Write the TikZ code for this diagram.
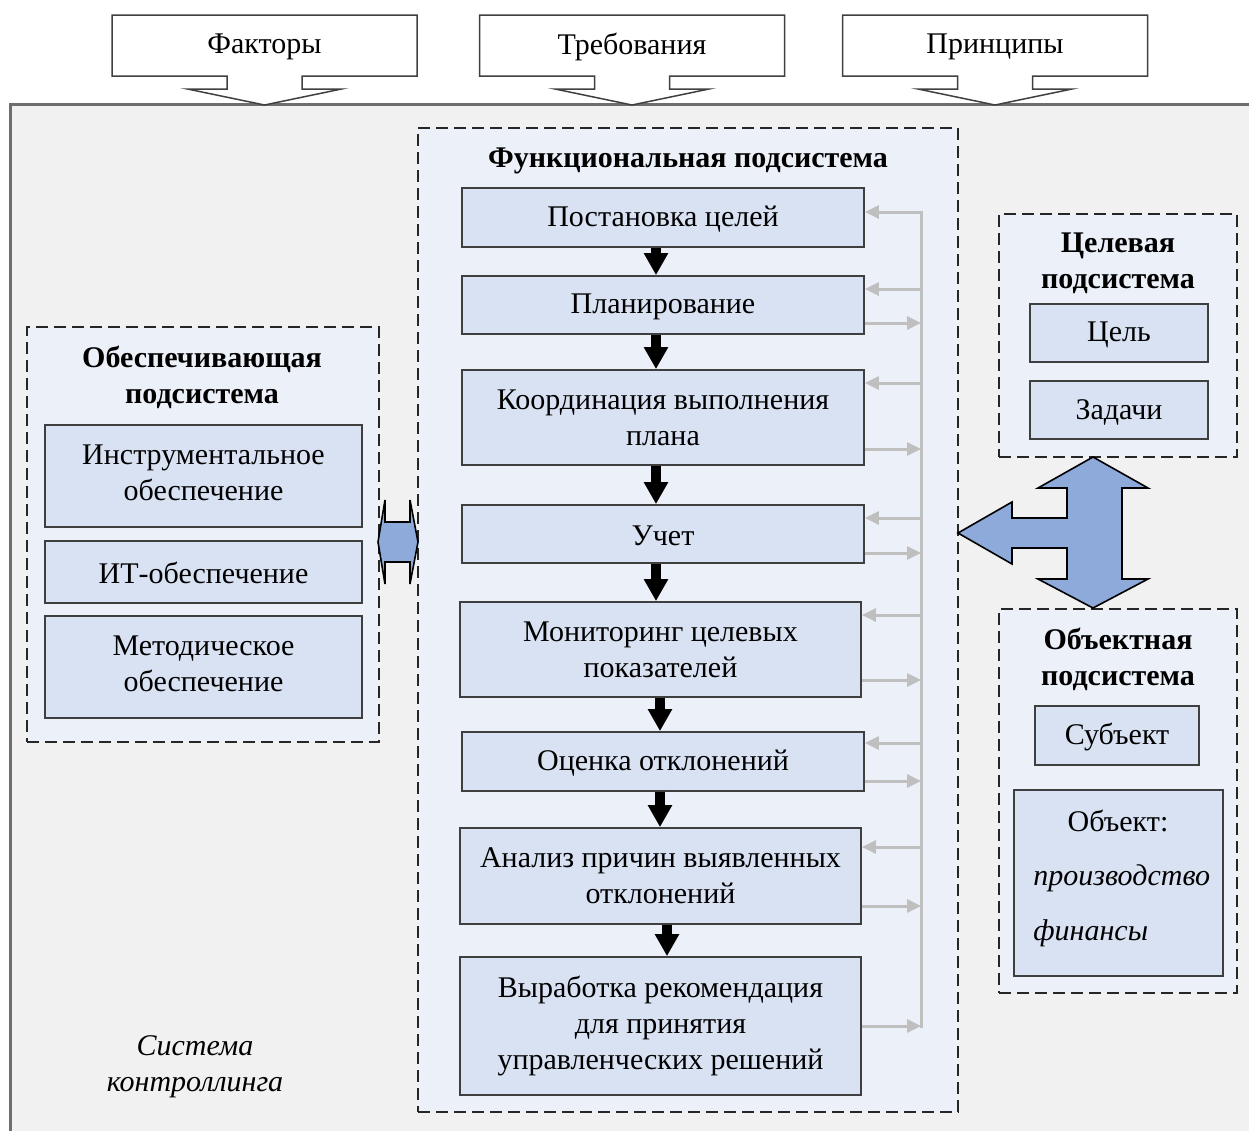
\documentclass[tikz,border=0pt]{standalone}
\usepackage{fontspec}
\setmainfont{Liberation Serif}
\usetikzlibrary{arrows.meta,calc}

\definecolor{outerbg}{HTML}{F1F1F1}
\definecolor{outerln}{HTML}{6E6E6E}
\definecolor{areabg}{HTML}{ECF0F8}
\definecolor{boxbg}{HTML}{D9E2F3}
\definecolor{boxln}{HTML}{3F3F3F}
\definecolor{fbline}{HTML}{BFBFBF}
\definecolor{arrblue}{HTML}{8EAADB}

% rectangle node given by its corners (x1,y1) and (x2,y2)
\newcommand\bx[7][]{%
  \node[fbox,minimum width={(#5-#3)*0.5pt},minimum height={(#6-#4)*0.5pt},#1]
    (#2) at ({(#3+#5)/2},{(#4+#6)/2}) {#7};}

\begin{document}
\begin{tikzpicture}[x=0.5pt,y=-0.5pt,
  font=\fontsize{15}{18}\selectfont,
  fbox/.style={draw=boxln,fill=boxbg,line width=0.9pt,inner sep=0pt,align=center},
  oneline/.style={text height=12pt},
  area/.style={draw=black!85,fill=areabg,line width=0.9pt,dash pattern=on 6pt off 3pt,inner sep=0pt},
  ttl/.style={font=\fontsize{15}{18}\selectfont\bfseries,align=center,inner sep=0pt},
  itx/.style={font=\fontsize{15}{18}\selectfont\itshape,align=center,inner sep=0pt},
  callout/.style={draw=black!75,fill=white,line width=0.75pt,line join=miter},
  blk/.style={line width=5pt,-{Triangle[width=11.5pt,length=11pt]}},
  gar/.style={draw=fbline,line width=1.5pt,-{Triangle[width=6.5pt,length=7pt]}},
  bigarr/.style={draw=black,fill=arrblue,line width=0.8pt,line join=miter}]

\useasboundingbox (0,0) rectangle (1249,1131);
\clip (0,0) rectangle (1249,1131);
\fill[white] (0,0) rectangle (1249,1131);

% outer frame of the controlling system
\draw[outerln,fill=outerbg,line width=1.5pt] (10,104) rectangle (1275,1160);

% input callouts above the frame
\foreach \n/\cx/\t in {fk/264.5/Факторы, tr/632/Требования, pr/995/Принципы}{
  \draw[callout] ({\cx-152.5},15) -- ({\cx+152.5},15) -- ({\cx+152.5},76)
    -- ({\cx+37.5},76) -- ({\cx+37.5},89) -- ({\cx+77},89) -- (\cx,105)
    -- ({\cx-77},89) -- ({\cx-37.5},89) -- ({\cx-37.5},76)
    -- ({\cx-152.5},76) -- cycle;
  \node[inner sep=0pt] (\n) at (\cx,47) {\t};
}

% functional subsystem
\bx[area]{fa}{418}{128}{958}{1112}{}
\node[ttl] (fat) at (688,161) {Функциональная подсистема};
\bx[oneline]{b1}{462}{188}{864}{247}{Постановка целей}
\bx[oneline]{b2}{462}{276}{864}{334}{Планирование}
\bx{b3}{462}{370}{864}{465}{Координация выполнения\\плана}
\bx[oneline]{b4}{462}{505}{864}{563}{Учет}
\bx{b5}{460}{602}{861}{697}{Мониторинг целевых\\показателей}
\bx[oneline]{b6}{462}{732}{864}{791}{Оценка отклонений}
\bx{b7}{460}{828}{861}{924}{Анализ причин выявленных\\отклонений}
\bx{b8}{460}{957}{861}{1095}{Выработка рекомендация\\для принятия\\управленческих решений}

% sequence arrows
\coordinate (ax1) at (656,0);
\coordinate (ax2) at (660,0);
\coordinate (ax3) at (667,0);
\draw[blk] (b1.south -| ax1) -- (b2.north -| ax1);
\draw[blk] (b2.south -| ax1) -- (b3.north -| ax1);
\draw[blk] (b3.south -| ax1) -- (b4.north -| ax1);
\draw[blk] (b4.south -| ax1) -- (b5.north -| ax1);
\draw[blk] (b5.south -| ax2) -- (b6.north -| ax2);
\draw[blk] (b6.south -| ax2) -- (b7.north -| ax2);
\draw[blk] (b7.south -| ax3) -- (b8.north -| ax3);

% feedback bus on the right of the functional steps
\coordinate (vtop) at (921,212);
\coordinate (vbot) at (921,1028);
\draw[gar] (vbot) -- (vtop) -- (vtop -| b1.east);
\foreach \b/\yi/\yo in {b2/289/323, b3/383/449, b4/518/553, b5/615/680, b6/743/781, b7/847/906}{
  \coordinate (fi) at (921,\yi);
  \coordinate (fo) at (921,\yo);
  \draw[gar] (fi) -- (fi -| \b.east);
  \draw[gar] (fo -| \b.east) -- (fo);
}
\coordinate (fo8) at (921,1026);
\draw[gar] (fo8 -| b8.east) -- (fo8);

% supporting subsystem
\bx[area]{sa}{27}{327}{379}{742}{}
\node[ttl] (sat) at (202,377) {Обеспечивающая\\подсистема};
\bx[text depth=3.2pt]{s1}{45}{425}{362}{527}{Инструментальное\\обеспечение}
\bx[oneline]{s2}{45}{541}{362}{603}{ИТ-обеспечение}
\bx[text depth=3.2pt]{s3}{45}{616}{362}{718}{Методическое\\обеспечение}

% link between supporting and functional subsystems
\draw[bigarr] (385,500) -- (385,522) -- (410,522) -- (410,500) -- (418,542)
  -- (410,584) -- (410,562) -- (385,562) -- (385,584) -- (378,542) -- cycle;

% target subsystem
\bx[area]{ta}{999}{214}{1237}{457}{}
\node[ttl] (tat) at (1118,263) {Целевая\\подсистема};
\bx[oneline]{t1}{1030}{304}{1208}{362}{Цель}
\bx[oneline]{t2}{1030}{381}{1208}{439}{Задачи}

% object subsystem
\bx[area]{oa}{999}{609}{1237}{993}{}
\node[ttl] (oat) at (1118,659) {Объектная\\подсистема};
\bx[oneline]{o1}{1035}{706}{1199}{765}{Субъект}
\bx{o2}{1014}{790}{1223}{976}{}
\node[inner sep=0pt] (o2a) at (1118,821) {Объект:};
\node[itx,anchor=west] (o2b) at (1033,878) {производство};
\node[itx,anchor=west] (o2c) at (1033,933) {финансы};

% three-way link: target, object and functional subsystems
\draw[bigarr] (1093,457) -- (1148,488) -- (1122,488) -- (1122,579) -- (1148,579)
  -- (1093,608) -- (1038,579) -- (1067,579) -- (1067,548) -- (1012,548)
  -- (1012,564) -- (958,533) -- (1012,502) -- (1012,518) -- (1067,518)
  -- (1067,488) -- (1038,488) -- cycle;

% caption of the whole system
\node[itx] (cap) at (195,1067) {Система\\контроллинга};
\end{tikzpicture}
\end{document}
